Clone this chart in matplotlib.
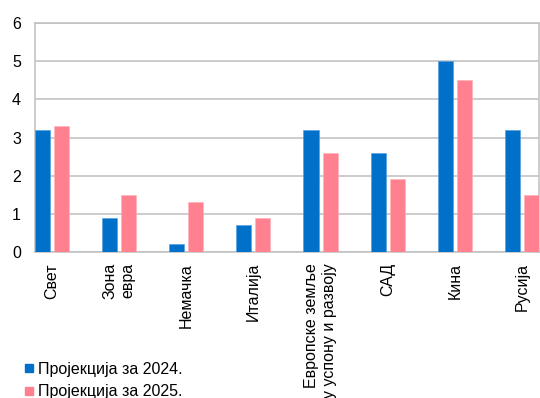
import numpy as np
import matplotlib.pyplot as plt
from matplotlib.lines import Line2D

plt.rcParams['font.family'] = ['Liberation Sans', 'DejaVu Sans']
plt.rcParams['font.size'] = 11.5

# projected growth by region
regions = ['Свет', 'Зона\nевра', 'Немачка', 'Италија', 'Европске земље\nу успону и развоју',
           'САД', 'Кина', 'Русија']
proj_2024 = [3.2, 0.9, 0.2, 0.7, 3.2, 2.6, 5.0, 3.2]
proj_2025 = [3.3, 1.5, 1.3, 0.9, 2.6, 1.9, 4.5, 1.5]
series_names = ['Пројекција за 2024.', 'Пројекција за 2025.']

blue = '#0070C9'
pink = '#FF808F'
grid = '#BFBFBF'

fig = plt.figure(figsize=(5.40, 3.98), dpi=100)
ax = fig.add_axes([0.0648, 0.3668, 0.9332, 0.5754])

x = np.arange(len(regions))
w = 0.224
off = 0.142
ax.bar(x - off, proj_2024, w, color=blue, edgecolor='#4A9BE0', linewidth=0.4, zorder=3)
ax.bar(x + off, proj_2025, w, color=pink, edgecolor='#FFB0B8', linewidth=0.4, zorder=3)

ax.set_xlim(-0.254, len(regions) - 1 + 0.254)
ax.set_ylim(0, 6)
ax.set_yticks(range(7))
ax.yaxis.grid(True, color=grid, linewidth=1.1, zorder=0)
for s in ax.spines.values():
    s.set_color(grid)
    s.set_linewidth(1.1)
ax.tick_params(axis='both', length=0)
ax.tick_params(axis='y', pad=10)
ax.set_xticks(x)
ax.set_xticklabels(regions, rotation=90, va='top', ha='center', multialignment='right')
ax.tick_params(axis='x', pad=8)

handles = [Line2D([], [], marker='s', linestyle='none', color=c, markersize=5.5)
           for c in (blue, pink)]
fig.legend(handles, series_names, loc='upper left', bbox_to_anchor=(24 / 540, 1 - 362 / 398),
           frameon=False, borderpad=0, borderaxespad=0, handlelength=0.6,
           handletextpad=0.25, labelspacing=0.45, fontsize=11.5)

fig.savefig('out.png', dpi=100)
